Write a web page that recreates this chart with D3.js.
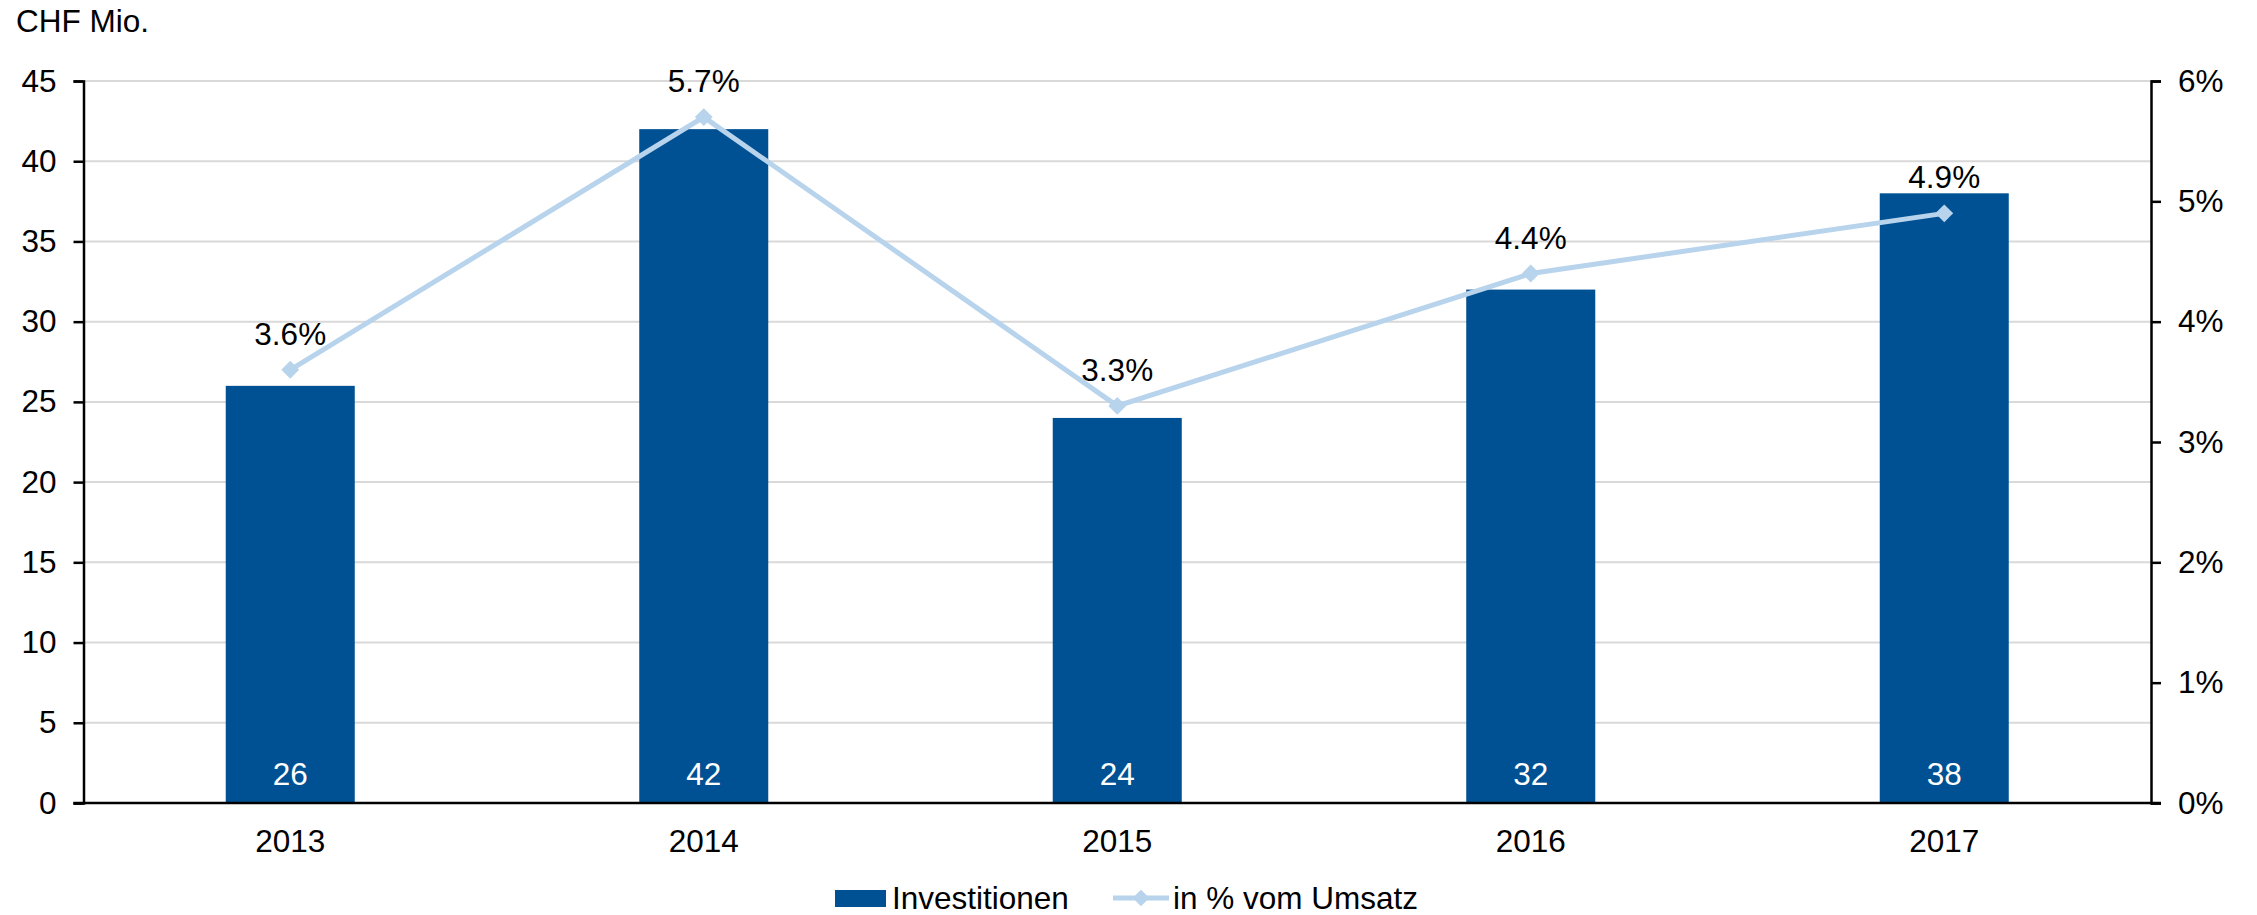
<!DOCTYPE html>
<html><head><meta charset="utf-8">
<script src="https://cdn.jsdelivr.net/npm/d3@7"></script>
<style>body{margin:0;background:#fff}svg{display:block;font-family:"Liberation Sans",Arial,sans-serif}</style>
</head><body>
<svg id="c" width="2257" height="915"></svg>
<script>
const years = ["2013","2014","2015","2016","2017"];
const invest = [26,42,24,32,38];
const pct = [3.6,5.7,3.3,4.4,4.9];
const leftTicks = [0,5,10,15,20,25,30,35,40,45];
const rightTicks = [0,1,2,3,4,5,6];

const FS = 31.5;
const svg = d3.select("#c");
const L = 83.5, R = 2151, T = 81, B = 803;
const x = d3.scaleBand().domain(years).range([L, R]).paddingInner(0.688).paddingOuter(0.344);
const y = d3.scaleLinear().domain([0,45]).range([B, T]);
const y2 = d3.scaleLinear().domain([0,6]).range([B, T]);
const cx = d => x(d) + x.bandwidth()/2;

// grid
svg.append("g").selectAll("line").data(leftTicks.filter(d=>d>0)).join("line")
  .attr("x1", L).attr("x2", R).attr("y1", d=>y(d)).attr("y2", d=>y(d))
  .attr("stroke", "#d9d9d9").attr("stroke-width", 2);

// bars
svg.append("g").selectAll("rect").data(years).join("rect")
  .attr("x", d=>x(d)).attr("width", x.bandwidth())
  .attr("y", (d,i)=>y(invest[i])).attr("height", (d,i)=>B - y(invest[i]))
  .attr("fill", "#005193");

svg.append("g").selectAll("text").data(years).join("text")
  .attr("x", d=>cx(d)).attr("y", 785).attr("text-anchor","middle")
  .attr("fill","#fff").attr("font-size", FS).text((d,i)=>invest[i]);

// axes
const ax = svg.append("g").attr("transform", `translate(${L},0)`)
  .call(d3.axisLeft(y).tickValues(leftTicks).tickSize(10).tickPadding(17));
const ax2 = svg.append("g").attr("transform", `translate(${R},0)`)
  .call(d3.axisRight(y2).tickValues(rightTicks).tickSize(10).tickPadding(17).tickFormat(d=>d+"%"));
const axb = svg.append("g").attr("transform", `translate(0,${B})`)
  .call(d3.axisBottom(x).tickSize(0).tickPadding(27));
[ax, ax2, axb].forEach(g => {
  g.select(".domain").attr("stroke","#000").attr("stroke-width",2.5);
  g.selectAll(".tick line").attr("stroke","#000").attr("stroke-width",2.5);
  g.selectAll("text").attr("font-size", FS).attr("fill","#000").attr("font-family","'Liberation Sans',Arial,sans-serif");
});
axb.select(".domain").attr("d", `M${L-10},0H${R+10}`);

// line
const line = d3.line().x((d,i)=>cx(years[i])).y(d=>y2(d));
svg.append("path").datum(pct).attr("d", line).attr("fill","none")
  .attr("stroke","#b8d3ec").attr("stroke-width",5);
svg.append("g").selectAll("path").data(pct).join("path")
  .attr("transform",(d,i)=>`translate(${cx(years[i])},${y2(d)}) rotate(45)`)
  .attr("d", d3.symbol().type(d3.symbolSquare).size(160))
  .attr("fill","#b8d3ec");
svg.append("g").selectAll("text").data(pct).join("text")
  .attr("x",(d,i)=>cx(years[i])).attr("y", d=>y2(d)-25).attr("text-anchor","middle")
  .attr("font-size",FS).attr("fill","#000").text(d=>d.toFixed(1)+"%");

// title
svg.append("text").attr("x",16).attr("y",32).attr("font-size",FS).text("CHF Mio.");

// legend
const lg = svg.append("g");
lg.append("rect").attr("x",835).attr("y",890).attr("width",51).attr("height",17).attr("fill","#005193");
lg.append("text").attr("x",892).attr("y",909).attr("font-size",FS).text("Investitionen");
lg.append("line").attr("x1",1113).attr("x2",1169).attr("y1",898).attr("y2",898).attr("stroke","#b8d3ec").attr("stroke-width",5);
lg.append("path").attr("transform","translate(1141,898) rotate(45)").attr("d", d3.symbol().type(d3.symbolSquare).size(140)).attr("fill","#b8d3ec");
lg.append("text").attr("x",1173).attr("y",909).attr("font-size",FS).text("in % vom Umsatz");
</script>
</body></html>
